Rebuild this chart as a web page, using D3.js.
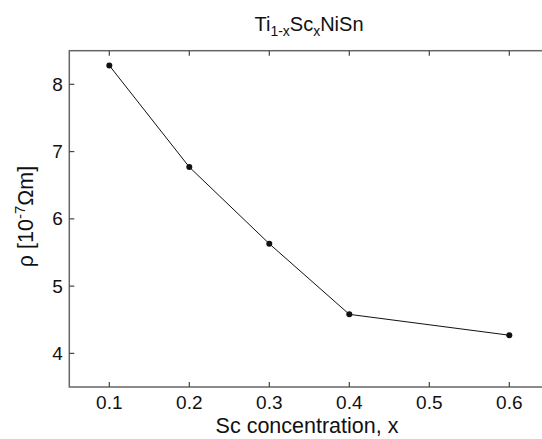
<!DOCTYPE html>
<html>
<head>
<meta charset="utf-8">
<script src="https://cdn.jsdelivr.net/npm/d3@7"></script>
<style>
  body { margin: 0; background: #fff; }
  text { font-family: "Liberation Sans", Arial, sans-serif; fill: #111; }
</style>
</head>
<body>
<div id="chart"></div>
<script>
// data
const concentration = [0.1, 0.2, 0.3, 0.4, 0.6];
const resistivity = [8.28, 6.77, 5.63, 4.58, 4.27];
const xTicks = [0.1, 0.2, 0.3, 0.4, 0.5, 0.6];
const yTicks = [4, 5, 6, 7, 8];

const W = 542, H = 439;
const margin = { top: 50.7, left: 69.3 };
const width = 480;      // plot runs past the right edge of the picture
const height = 336.3;

const svg = d3.select("#chart")
    .append("svg")
    .attr("width", W)
    .attr("height", H);

const g = svg.append("g")
    .attr("transform", "translate(" + margin.left + "," + margin.top + ")");

const x = d3.scaleLinear().domain([0.05, 0.65]).range([0, width]);
const y = d3.scaleLinear().domain([3.5, 8.5]).range([height, 0]);

const axisColor = "#666";
const tickLen = 5;

// box
g.append("rect")
    .attr("width", width)
    .attr("height", height)
    .attr("fill", "none")
    .attr("stroke", axisColor)
    .attr("stroke-width", 1.5);

// inward ticks, bottom and top
g.selectAll(".xtick-b")
    .data(xTicks)
    .enter()
    .append("line")
    .attr("x1", d => x(d)).attr("x2", d => x(d))
    .attr("y1", height).attr("y2", height - tickLen)
    .attr("stroke", "#444").attr("stroke-width", 1.2);
g.selectAll(".xtick-t")
    .data(xTicks)
    .enter()
    .append("line")
    .attr("x1", d => x(d)).attr("x2", d => x(d))
    .attr("y1", 0).attr("y2", tickLen)
    .attr("stroke", "#444").attr("stroke-width", 1.2);
g.selectAll(".ytick")
    .data(yTicks)
    .enter()
    .append("line")
    .attr("x1", 0).attr("x2", tickLen)
    .attr("y1", d => y(d)).attr("y2", d => y(d))
    .attr("stroke", "#444").attr("stroke-width", 1.2);

// tick labels
g.selectAll(".xlab")
    .data(xTicks)
    .enter()
    .append("text")
    .attr("x", d => x(d))
    .attr("y", height + 22)
    .attr("text-anchor", "middle")
    .style("font-size", "19px")
    .text(d => d3.format(".1f")(d));
g.selectAll(".ylab")
    .data(yTicks)
    .enter()
    .append("text")
    .attr("x", -6.5)
    .attr("y", d => y(d) + 6.5)
    .attr("text-anchor", "end")
    .style("font-size", "19px")
    .text(d => d);

// line + markers
const line = d3.line()
    .x((d, i) => x(concentration[i]))
    .y(d => y(d));
g.append("path")
    .datum(resistivity)
    .attr("d", line)
    .attr("fill", "none")
    .attr("stroke", "#111")
    .attr("stroke-width", 1);
g.selectAll(".pt")
    .data(resistivity)
    .enter()
    .append("circle")
    .attr("cx", (d, i) => x(concentration[i]))
    .attr("cy", d => y(d))
    .attr("r", 3)
    .attr("fill", "#111");

// axis titles
svg.append("text")
    .attr("x", 307)
    .attr("y", 433)
    .attr("text-anchor", "middle")
    .style("font-size", "21.5px")
    .text("Sc concentration, x");

const yt = svg.append("text")
    .attr("transform", "translate(33,216.5) rotate(-90)")
    .attr("text-anchor", "middle")
    .style("font-size", "21.5px");
yt.append("tspan").text("\u03c1 [10");
yt.append("tspan").attr("dy", -8).style("font-size", "15px").text("-7");
yt.append("tspan").attr("dy", 8).text("\u03a9m]");

// title
const tt = svg.append("text")
    .attr("x", 309)
    .attr("y", 31)
    .attr("text-anchor", "middle")
    .style("font-size", "20px");
tt.append("tspan").text("Ti");
tt.append("tspan").attr("dy", 5).style("font-size", "14px").text("1-x");
tt.append("tspan").attr("dy", -5).text("Sc");
tt.append("tspan").attr("dy", 5).style("font-size", "14px").text("x");
tt.append("tspan").attr("dy", -5).text("NiSn");
</script>
</body>
</html>
